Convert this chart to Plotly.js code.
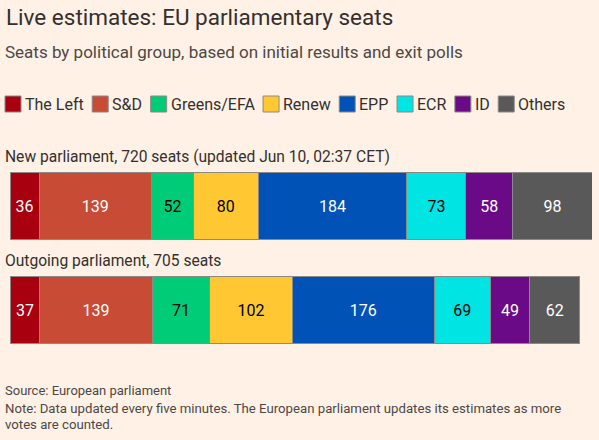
<!DOCTYPE html>
<html>
<head>
<meta charset="utf-8">
<script src="https://cdn.plot.ly/plotly-3.0.1.min.js"></script>
<style>
  html, body { margin: 0; padding: 0; background: #fff1e5; }
  #chart { width: 599px; height: 440px; }
</style>
</head>
<body>
<div id="chart"></div>
<script>
// ---- Data ----
const parties = ["The Left", "S&D", "Greens/EFA", "Renew", "EPP", "ECR", "ID", "Others"];
const rowLabels = ["New parliament, 720 seats (updated Jun 10, 02:37 CET)", "Outgoing parliament, 705 seats"];
const newSeats = [36, 139, 52, 80, 184, 73, 58, 98];
const outgoingSeats = [37, 139, 71, 102, 176, 69, 49, 62];
const partyColors = ["#a8000f", "#c84b36", "#00cc78", "#ffc832", "#0052b7", "#00e4e4", "#6a0a87", "#5a5959"];
const labelColors = ["#ffffff", "#ffffff", "#000000", "#000000", "#ffffff", "#000000", "#ffffff", "#ffffff"];
const titleText = "Live estimates: EU parliamentary seats";
const subtitleText = "Seats by political group, based on initial results and exit polls";
const sourceText = "Source: European parliament";
const noteLines = ["Note: Data updated every five minutes. The European parliament updates its estimates as more", "votes are counted."];

// ---- Layout constants ----
const W = 599, H = 440;
const FONT = "Roboto, 'Open Sans', sans-serif";
const M = { l: 10, r: 7, t: 154, b: 78 };
const plotW = W - M.l - M.r, plotH = H - M.t - M.b;
const px2x = px => (px - M.l) / plotW;
const py2y = py => (H - M.b - py) / plotH;
const PAD = 3; // annotation inner padding

const traces = parties.map((p, i) => ({
  type: "bar",
  orientation: "h",
  name: p,
  y: rowLabels,
  x: [newSeats[i], outgoingSeats[i]],
  text: [String(newSeats[i]), String(outgoingSeats[i])],
  textposition: "inside",
  insidetextanchor: "middle",
  constraintext: "none",
  textangle: 0,
  textfont: { family: FONT, size: 16, color: labelColors[i] },
  marker: { color: partyColors[i], line: { color: "#8c8986", width: 1 } },
  hoverinfo: "name+x",
  showlegend: false
}));

// Manual compact legend
const cv = document.createElement("canvas").getContext("2d");
const legFont = 16;
cv.font = legFont + "px Roboto";
const shapes = [];
const annotations = [];
let lx = 5;
const legY = 104, sw = 16;
parties.forEach((p, i) => {
  shapes.push({
    type: "rect", xref: "paper", yref: "paper",
    x0: px2x(lx), x1: px2x(lx + sw), y0: py2y(legY + sw / 2), y1: py2y(legY - sw / 2),
    fillcolor: partyColors[i], line: { color: "#8c8986", width: 1 }
  });
  annotations.push({
    xref: "paper", yref: "paper", x: px2x(lx + sw + 5 - PAD), y: py2y(legY),
    xanchor: "left", yanchor: "middle", showarrow: false,
    text: p.replace("&", "&amp;"), font: { family: FONT, size: legFont, color: "#33302e" }
  });
  const tw = cv.measureText(p).width;
  lx += sw + 5 + tw + 7.5;
});

// Row labels above bars
rowLabels.forEach(r => {
  annotations.push({
    xref: "paper", yref: "y", x: 0, xshift: -4 - PAD, y: r, yshift: 49,
    xanchor: "left", yanchor: "middle", showarrow: false,
    text: r, font: { family: FONT, size: 15.6, color: "#33302e" }
  });
});

// Subtitle
annotations.push({
  xref: "paper", yref: "paper", x: px2x(6 - PAD), y: py2y(52), xanchor: "left", yanchor: "middle",
  showarrow: false, text: subtitleText, font: { family: FONT, size: 17, color: "#4d4845" }
});
// Source + notes
annotations.push({
  xref: "paper", yref: "paper", x: px2x(6 - PAD), y: py2y(390), xanchor: "left", yanchor: "middle",
  showarrow: false, text: sourceText, font: { family: FONT, size: 13, color: "#4d4845" }
});
noteLines.forEach((t, k) => {
  annotations.push({
    xref: "paper", yref: "paper", x: px2x(6 - PAD), y: py2y(408 + k * 16), xanchor: "left", yanchor: "middle",
    showarrow: false, text: t, font: { family: FONT, size: 13.2, color: "#4d4845" }
  });
});

const layout = {
  width: W, height: H,
  paper_bgcolor: "#fff1e5", plot_bgcolor: "#fff1e5",
  margin: M,
  barmode: "stack",
  bargap: 0.365,
  showlegend: false,
  title: {
    text: titleText, x: 6 / W, xanchor: "left", xref: "container",
    y: 1 - 17 / H, yanchor: "middle", yref: "container",
    font: { family: FONT, size: 22.5, color: "#33302e" }
  },
  xaxis: { range: [0, 720], visible: false, fixedrange: true },
  yaxis: { type: "category", categoryorder: "array", categoryarray: rowLabels, range: [1.5, -0.5], visible: false, fixedrange: true },
  shapes: shapes,
  annotations: annotations,
  font: { family: FONT }
};

Plotly.newPlot("chart", traces, layout, { displayModeBar: false, staticPlot: true });
</script>
</body>
</html>
